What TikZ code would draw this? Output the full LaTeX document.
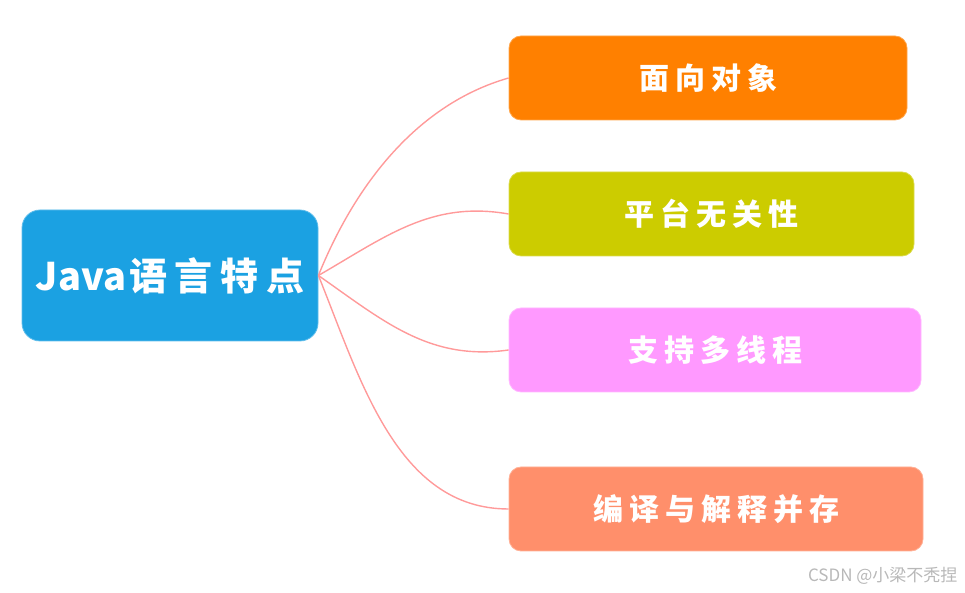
\documentclass[tikz,border=0pt]{standalone}
\usepackage{fontspec}
\newfontfamily\cjkb{Noto Sans CJK SC}[LetterSpace=20]
\newfontfamily\cjkr{Noto Sans CJK SC}
\definecolor{cmain}{HTML}{1BA1E2}
\definecolor{cone}{HTML}{FF8000}
\definecolor{ctwo}{HTML}{CCCC00}
\definecolor{cthree}{HTML}{FF99FF}
\definecolor{cfour}{HTML}{FF8F6B}
\definecolor{cline}{HTML}{FF9A9A}
\begin{document}
\begin{tikzpicture}[x=1pt,y=1pt,
  mainbox/.style={rounded corners=18pt, fill=cmain, draw=cmain!70!white, line width=0.8pt,
    minimum width=296pt, minimum height=131pt, inner sep=0pt, text=white,
    font=\bfseries\fontsize{38}{40}\selectfont},
  leafbox/.style={rounded corners=12pt, draw=#1!70!white, fill=#1, line width=0.8pt,
    minimum height=84pt, inner sep=0pt, text=white,
    font=\cjkb\bfseries\fontsize{30}{32}\selectfont},
  link/.style={draw=cline, line width=1.4pt}]
\useasboundingbox (0,0) rectangle (965,593);
\node[mainbox] (c) at (170,317.5) {{\cjkr\bfseries Java\hspace{3pt}}{\cjkb\bfseries 语言特点}};
\node[leafbox=cone, minimum width=398pt] (b1) at (708,515) {面向对象};
\node[leafbox=ctwo, minimum width=405pt] (b2) at (711.5,379) {平台无关性};
\node[leafbox=cthree, minimum width=412pt] (b3) at (715,243) {支持多线程};
\node[leafbox=cfour, minimum width=414pt] (b4) at (716,84) {编译与解释并存};
\draw[link] (c.east) to[out=68,in=196,looseness=0.9] (b1.west);
\draw[link] (c.east) to[out=30,in=170] (b2.west);
\draw[link] (c.east) to[out=-35,in=188] (b3.west);
\draw[link] (c.east) to[out=-68,in=180,looseness=0.95] (b4.west);
\node[text=black!28, font=\cjkr\fontsize{17}{19}\selectfont, anchor=east] (wm) at (961,17) {CSDN @小梁不秃捏};
\end{tikzpicture}
\end{document}
